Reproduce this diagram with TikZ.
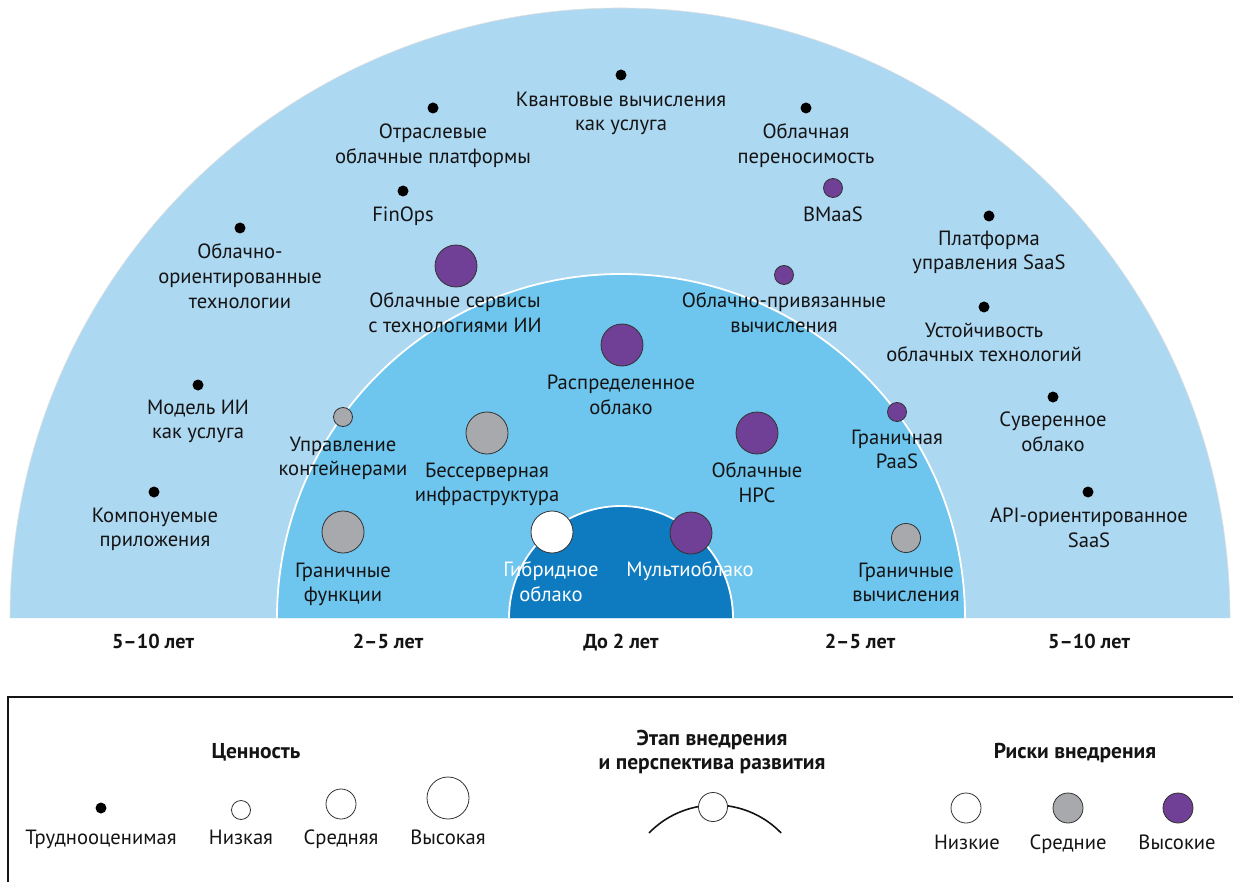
\documentclass[tikz,border=0pt]{standalone}
\usepackage{fontspec}
\setmainfont{PT Sans}
\begin{document}
\definecolor{ringout}{RGB}{173,216,242}
\definecolor{ringmid}{RGB}{110,197,238}
\definecolor{ringin}{RGB}{14,123,192}
\definecolor{riskhi}{RGB}{112,64,150}
\definecolor{riskmid}{RGB}{168,169,173}
\definecolor{edge}{RGB}{50,50,50}
\definecolor{ink}{RGB}{20,20,20}
\newcommand\lblfont{\fontsize{20.6}{24.8}\selectfont}
\newcommand\yrfont{\fontsize{20.2}{24.8}\selectfont\bfseries}
\newcommand\hdfont{\fontsize{21.5}{24}\selectfont\bfseries}
\newcommand\lstrut{\rule{0pt}{15pt}}
\begin{tikzpicture}[x=1pt,y=-1pt,
  dotv/.style={circle,fill=black,inner sep=0pt,minimum size=11pt},
  bub/.style={circle,draw=edge,line width=0.8pt,inner sep=0pt},
  lo/.style={bub,fill=white},
  mid/.style={bub,fill=riskmid},
  hi/.style={bub,fill=riskhi},
  small/.style={minimum size=19pt},
  medium/.style={minimum size=29pt},
  large/.style={minimum size=42pt},
  lbl/.style={anchor=north,align=center,inner sep=0pt,font=\lblfont,text=ink,
              yshift=-3.5pt,execute at begin node=\lstrut},
  wlbl/.style={lbl,text=white},
  yrs/.style={anchor=base,inner sep=0pt,font=\yrfont,text=ink},
  hdb/.style={anchor=base,inner sep=0pt,font=\hdfont,text=ink},
  hd/.style={anchor=north,align=center,inner sep=0pt,font=\hdfont,text=ink,
             execute at begin node=\lstrut},
  leg/.style={anchor=base,inner sep=0pt,font=\lblfont,text=ink}]
\useasboundingbox (0,0) rectangle (1233,882);
\clip (0,0) rectangle (1233,882);

% three horizon rings
\fill[ringout] (10,618) arc[start angle=180,end angle=360,radius=610] -- cycle;
\draw[white!75!gray,line width=0.6pt] (10,618) arc[start angle=180,end angle=360,radius=610];
\fill[ringmid] (277,618) arc[start angle=180,end angle=360,radius=344] -- cycle;
\draw[white,line width=1.8pt] (277,618) arc[start angle=180,end angle=360,radius=344];
\fill[ringin] (509,618) arc[start angle=180,end angle=360,radius=112] -- cycle;
\draw[white,line width=1.8pt] (509,618) arc[start angle=180,end angle=360,radius=112];

% technologies
\node[dotv] (kv) at (621,75) {};
\node[lbl] (kvt) at (621,88) {Квантовые вычисления\\как услуга};
\node[dotv] (otr) at (433,108) {};
\node[lbl] (otrt) at (433,120) {Отраслевые\\облачные платформы};
\node[dotv] (fin) at (403,191) {};
\node[lbl] (fint) at (403,203) {FinOps};
\node[dotv] (cno) at (240,228) {};
\node[lbl] (cnot) at (240,240) {Облачно-\\ориентированные\\технологии};
\node[hi,large] (ais) at (456,266) {};
\node[lbl] (aist) at (455,289) {Облачные сервисы\\с технологиями ИИ};
\node[dotv] (prt) at (806,108) {};
\node[lbl] (prtt) at (806,120) {Облачная\\переносимость};
\node[hi,small] (bm) at (833,188) {};
\node[lbl] (bmt) at (833,203) {BMaaS};
\node[dotv] (smp) at (989,216) {};
\node[lbl] (smpt) at (989,227) {Платформа\\управления SaaS};
\node[hi,small] (teth) at (784,275) {};
\node[lbl] (teht) at (784,289) {Облачно-привязанные\\вычисления};
\node[dotv] (sus) at (984,307) {};
\node[lbl] (sust) at (984,319) {Устойчивость\\облачных технологий};
\node[hi,large] (dst) at (622,345) {};
\node[lbl] (dstt) at (621,371) {Распределенное\\облако};
\node[dotv] (aim) at (198,385) {};
\node[lbl] (aimt) at (198,396) {Модель ИИ\\как услуга};
\node[mid,small] (cnt) at (343,417) {};
\node[lbl] (cntt) at (343,433) {Управление\\контейнерами};
\node[mid,large] (svl) at (487,433) {};
\node[lbl] (svlt) at (487,459) {Бессерверная\\инфраструктура};
\node[hi,large] (hpc) at (757,433) {};
\node[lbl] (hpct) at (757,459) {Облачные\\HPC};
\node[hi,small] (epa) at (897,412) {};
\node[lbl] (epat) at (897,426) {Граничная\\PaaS};
\node[dotv] (sov) at (1053,397) {};
\node[lbl] (sovt) at (1053,408) {Суверенное\\облако};
\node[dotv] (cmp) at (154,492) {};
\node[lbl] (cmpt) at (155,504) {Компонуемые\\приложения};
\node[dotv] (api) at (1088,492) {};
\node[lbl] (apit) at (1089,504) {API-ориентированное\\SaaS};
\node[mid,large] (efn) at (343,532) {};
\node[lbl] (efnt) at (343,559) {Граничные\\функции};
\node[lo,large] (hyb) at (552,532) {};
\node[wlbl] (hybt) at (551,558) {Гибридное\\облако};
\node[hi,large] (mlt) at (691,533) {};
\node[wlbl] (mltt) at (690,558) {Мультиоблако};
\node[mid,medium] (ecp) at (906,538) {};
\node[lbl] (ecpt) at (906,559) {Граничные\\вычисления};

% horizon captions
\node[yrs] (h1) at (153,648) {5–10 лет};
\node[yrs] (h2) at (388,648) {2–5 лет};
\node[yrs] (h3) at (621,648) {До 2 лет};
\node[yrs] (h4) at (860,648) {2–5 лет};
\node[yrs] (h5) at (1089,648) {5–10 лет};

% legend frame
\draw[line width=1.6pt,draw=ink] (8,900) -- (8,697) -- (1250,697);

% legend: value
\node[hdb] (lv) at (256,758) {Ценность};
\node[dotv] (lv0) at (101,808) {};
\node[bub,fill=white,small] (lv1) at (241,810) {};
\node[bub,fill=white,minimum size=30pt] (lv2) at (341,804) {};
\node[bub,fill=white,large] (lv3) at (448,798) {};
\node[leg] (lv0t) at (101,844) {Труднооценимая};
\node[leg] (lv1t) at (241,844) {Низкая};
\node[leg] (lv2t) at (341,844) {Средняя};
\node[leg] (lv3t) at (448,844) {Высокая};

% legend: stage
\node[hd] (ls) at (712,730) {Этап внедрения\\и перспектива развития};
\draw[line width=1.6pt,draw=ink] (649,833) arc[start angle=224.1,end angle=315.9,radius=92];
\node[bub,fill=white,medium] (lsc) at (713,807) {};

% legend: risk
\node[hdb] (lr) at (1075,758) {Риски внедрения};
\node[lo,minimum size=30pt] (lr1) at (966,808) {};
\node[mid,minimum size=30pt] (lr2) at (1068,808) {};
\node[hi,minimum size=30pt] (lr3) at (1178,808) {};
\node[leg] (lr1t) at (967,849) {Низкие};
\node[leg] (lr2t) at (1068,849) {Средние};
\node[leg] (lr3t) at (1177,849) {Высокие};
\end{tikzpicture}
\end{document}
